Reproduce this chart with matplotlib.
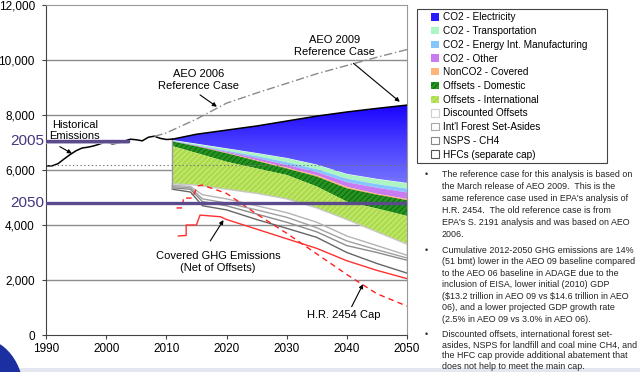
import numpy as np
import matplotlib
matplotlib.use('Agg')
from matplotlib import pyplot as plt
from matplotlib.colors import LinearSegmentedColormap
from matplotlib.patches import Patch, PathPatch, Rectangle, Ellipse

plt.rcParams['font.family'] = ['Liberation Sans', 'DejaVu Sans']
plt.rcParams['hatch.linewidth'] = 0.6

# historical emissions
hist_years = list(range(1990, 2012))
hist_vals = [6150, 6150, 6230, 6400, 6560, 6700, 6800, 6830, 6880, 6950, 7030,
             6950, 6980, 7050, 7120, 7100, 7060, 7190, 7230, 7150, 7110, 7120]

# AEO 2006 reference case (dash-dot)
aeo06_years = [2008, 2010, 2015, 2020, 2025, 2030, 2035, 2040, 2045, 2050]
aeo06_vals = [7220, 7350, 7850, 8430, 8800, 9150, 9500, 9800, 10100, 10380]

# stacked abatement wedges, boundaries
layer_years = [2011, 2015, 2020, 2025, 2030, 2035, 2040, 2045, 2050]
ref_top = [7120, 7300, 7450, 7600, 7780, 7960, 8110, 8240, 8360]        # AEO 2009
mint_top = [7090, 6960, 6790, 6620, 6440, 6200, 5860, 5680, 5530]       # CO2 transportation
lblue_top = [7070, 6920, 6720, 6520, 6300, 6040, 5700, 5500, 5340]      # CO2 energy int.
purple_top = [7060, 6900, 6680, 6450, 6200, 5940, 5570, 5370, 5200]     # CO2 other
orange_top = [7050, 6880, 6640, 6370, 6100, 5820, 5400, 5150, 4960]     # NonCO2 covered
dkgreen_top = [7040, 6860, 6610, 6330, 6050, 5760, 5330, 5100, 4900]    # offsets domestic
ltgreen_top = [6870, 6620, 6300, 6060, 5820, 5400, 4850, 4600, 4330]    # offsets international
green_bottom = [5500, 5450, 5300, 5150, 4950, 4620, 4200, 3750, 3300]

# white wedges below (discounted offsets, forest set-asides, NSPS, HFCs)
gray_years = [2011, 2014, 2016, 2020, 2025, 2030, 2035, 2040, 2045, 2050]
disc_bottom = [5450, 5400, 5100, 4950, 4700, 4450, 4100, 3600, 3250, 2900]
forest_bottom = [5400, 5350, 4950, 4800, 4550, 4280, 3900, 3420, 3100, 2800]
nsps_bottom = [5350, 5300, 4850, 4700, 4400, 4100, 3750, 3250, 3000, 2720]
hfc_bottom = [5300, 5200, 4700, 4550, 4200, 3880, 3550, 3000, 2600, 2250]

# covered GHG emissions net of offsets
covered_years = [2012, 2013.3, 2013.3, 2015, 2015.6, 2019, 2020, 2025, 2030, 2035, 2040, 2045, 2050]
covered_vals = [3600, 3620, 4000, 4000, 4360, 4300, 4200, 3850, 3500, 3150, 2700, 2350, 2050]

# H.R. 2454 cap
cap_years = [2011.7, 2012.8, 2012.8, 2014.3, 2015.2, 2016, 2020, 2025, 2030, 2035, 2040, 2045, 2050]
cap_vals = [4620, 4620, 4980, 4980, 5420, 5450, 5150, 4400, 3700, 2950, 2200, 1500, 1050]

legend_labels = ['CO2 - Electricity', 'CO2 - Transportation', 'CO2 - Energy Int. Manufacturing',
                 'CO2 - Other', 'NonCO2 - Covered', 'Offsets - Domestic', 'Offsets - International',
                 'Discounted Offsets', "Int'l Forest Set-Asides", 'NSPS - CH4', 'HFCs (separate cap)']

bullets = [
    "The reference case for this analysis is based on\nthe March release of AEO 2009.  This is the\n"
    "same reference case used in EPA's analysis of\nH.R. 2454.  The old reference case is from\n"
    "EPA's S. 2191 analysis and was based on AEO\n2006.",
    "Cumulative 2012-2050 GHG emissions are 14%\n(51 bmt) lower in the AEO 09 baseline compared\n"
    "to the AEO 06 baseline in ADAGE due to the\ninclusion of EISA, lower initial (2010) GDP\n"
    "($13.2 trillion in AEO 09 vs $14.6 trillion in AEO\n06), and a lower projected GDP growth rate\n"
    "(2.5% in AEO 09 vs 3.0% in AEO 06).",
    "Discounted offsets, international forest set-\nasides, NSPS for landfill and coal mine CH4, and\n"
    "the HFC cap provide additional abatement that\ndoes not help to meet the main cap.",
]

c_mint = '#aef5c4'
c_lblue = '#86c6ff'
c_purple = '#c97cf2'
c_orange = '#ffb47a'
c_dkgreen = '#24931f'
c_ltgreen = '#acdc4c'

fig = plt.figure(figsize=(6.4, 3.72), dpi=100)
ax = fig.add_axes([46 / 640, 37 / 372, 361 / 640, 330 / 372])

for v in range(2000, 12000, 2000):
    ax.axhline(v, color='#8c8c8c', lw=1.0, zorder=0)
ax.axhline(6180, color='#777777', lw=0.8, ls=(0, (1.2, 2.2)), zorder=8)

# blue electricity wedge with vertical gradient
blue_poly = ax.fill_between(layer_years, mint_top, ref_top, color='none', lw=0)
clip = PathPatch(blue_poly.get_paths()[0], facecolor='none', edgecolor='none', transform=ax.transData)
ax.add_patch(clip)
blue_cmap = LinearSegmentedColormap.from_list('b', ['#7878ff', '#4a40ff', '#1800ff'])
grad = np.linspace(0, 1, 256).reshape(-1, 1)
im = ax.imshow(grad, extent=[2011, 2050, 5400, 8400], origin='lower', aspect='auto',
               cmap=blue_cmap, zorder=2)
im.set_clip_path(clip)

ax.fill_between(layer_years, lblue_top, mint_top, color=c_mint, lw=0, zorder=2)
ax.fill_between(layer_years, purple_top, lblue_top, color=c_lblue, lw=0, zorder=2)
ax.fill_between(layer_years, orange_top, purple_top, color=c_purple, lw=0, zorder=2)
ax.fill_between(layer_years, dkgreen_top, orange_top, color=c_orange, lw=0, zorder=2)
ax.fill_between(layer_years, ltgreen_top, dkgreen_top, facecolor=c_dkgreen, edgecolor='#0c5f10',
                hatch='//////', lw=0, zorder=2)
ax.fill_between(layer_years, green_bottom, ltgreen_top, facecolor=c_ltgreen, edgecolor='#d2ee8e',
                hatch='//////', lw=0, zorder=2)

# white wedges outlined in gray
ax.plot(layer_years, green_bottom, color='#c8c8c8', lw=1.0, zorder=3)
ax.plot(gray_years, disc_bottom, color='#b4b4b4', lw=1.0, zorder=3)
ax.plot(gray_years, forest_bottom, color='#a0a0a0', lw=1.0, zorder=3)
ax.plot(gray_years, nsps_bottom, color='#8c8c8c', lw=1.0, zorder=3)
ax.plot(gray_years, hfc_bottom, color='#666666', lw=1.0, zorder=3)
ax.vlines(layer_years[0], hfc_bottom[0], ref_top[0], color='#999999', lw=1.0, zorder=3)
ax.vlines(layer_years[-1], hfc_bottom[-1], green_bottom[-1], color='#999999', lw=1.0, zorder=3)

ax.plot(covered_years, covered_vals, color='#ff3030', lw=1.0, zorder=5)
ax.plot(cap_years, cap_vals, color='#ff2020', lw=1.0, ls=(0, (4, 3)), zorder=5)

ax.plot(hist_years, hist_vals, color='black', lw=1.1, zorder=4)
ax.plot(layer_years, ref_top, color='black', lw=1.1, zorder=4)
ax.plot(aeo06_years, aeo06_vals, color='#8a8a8a', lw=1.0, ls=(0, (6, 2, 1, 2)), zorder=4)

# purple markers for the 2005 and 2050 levels
ax.plot([1990, 2003.6], [7000, 7000], color='#b8b8d0', lw=1.2, zorder=8)
ax.plot([1990, 2003.6], [7060, 7060], color='#5b4a8c', lw=2.4, zorder=9)
ax.axhline(4800, color='#5b4a8c', lw=2.4, zorder=9)
ax.text(1989.7, 7060, '2005', ha='right', va='center', fontsize=11, color='#45357f', clip_on=False)
ax.text(1989.7, 4800, '2050', ha='right', va='center', fontsize=11, color='#45357f', clip_on=False)

# annotations
ax.text(1994.8, 7430, 'Historical\nEmissions', ha='center', va='center', fontsize=8, zorder=7)
ax.text(2015.3, 9270, 'AEO 2006\nReference Case', ha='center', va='center', fontsize=8)
ax.text(2038.0, 10500, 'AEO 2009\nReference Case', ha='center', va='center', fontsize=8)
ax.text(2018.6, 2650, 'Covered GHG Emissions\n(Net of Offsets)', ha='center', va='center', fontsize=8)
ax.text(2039.5, 730, 'H.R. 2454 Cap', ha='center', va='center', fontsize=8)
arrow = dict(arrowstyle='-|>', color='black', lw=0.8, mutation_scale=6, shrinkA=0, shrinkB=0)
for tail, tip in [((1992.3, 6850), (1994.3, 6600)), ((2015.6, 8730), (2018.4, 8300)),
                  ((2041.1, 9880), (2048.8, 8480)), ((2017.3, 3420), (2019.5, 4180)),
                  ((2040.8, 1030), (2042.7, 1850))]:
    ax.annotate('', xy=tip, xytext=tail, arrowprops=arrow, zorder=7)

ax.set_xlim(1990, 2050)
ax.set_ylim(0, 12000)
ax.set_xticks(range(1990, 2051, 10))
ax.set_yticks(range(0, 12001, 2000))
ax.set_yticklabels(['0', '2,000', '4,000', '6,000', '8,000', '10,000', '12,000'])
ax.tick_params(axis='both', labelsize=8.5, length=3, width=0.8, color='#444444', pad=3)
ax.tick_params(axis='y', pad=5)
for s in ['left', 'bottom']:
    ax.spines[s].set_color('#444444')
for s in ['top', 'right']:
    ax.spines[s].set_color('#999999')

# legend in its own box
fig.patches.append(Rectangle((416.7 / 640, 1 - 162.7 / 372), 190 / 640, 153.4 / 372,
                             transform=fig.transFigure, facecolor='white', edgecolor='#444444', lw=0.8))
handles = [Patch(facecolor='#2a1aff'), Patch(facecolor=c_mint), Patch(facecolor=c_lblue),
           Patch(facecolor=c_purple), Patch(facecolor=c_orange),
           Patch(facecolor=c_dkgreen, edgecolor='#0c5f10', hatch='//////', lw=0),
           Patch(facecolor=c_ltgreen, edgecolor='#d2ee8e', hatch='//////', lw=0),
           Patch(facecolor='white', edgecolor='#d0d0d0', lw=0.8),
           Patch(facecolor='white', edgecolor='#a8a8a8', lw=0.8),
           Patch(facecolor='white', edgecolor='#888888', lw=0.8),
           Patch(facecolor='white', edgecolor='#555555', lw=0.8)]
fig.legend(handles, legend_labels, loc='upper left', bbox_to_anchor=(431 / 640, 1 - 12.5 / 372),
           frameon=False, fontsize=7.2, handlelength=0.75, handleheight=0.75, handletextpad=0.45,
           borderpad=0, borderaxespad=0, labelspacing=0.37)

# slide decoration at the bottom-left
fig.patches.append(Rectangle((0, 0), 1, 4 / 372, transform=fig.transFigure,
                             facecolor='#e4e6f0', edgecolor='none'))
fig.patches.append(Ellipse((-20 / 640, -22 / 372), 88 / 640, 112 / 372, transform=fig.transFigure,
                           facecolor='#1c2fa0', edgecolor='none'))

# bullet notes
for top, txt, spacing in zip([170.5, 246, 330], bullets, [1.42, 1.35, 1.24]):
    fig.text(425 / 640, 1 - top / 372, '\u2022', fontsize=6.4, va='top', color='#222222')
    fig.text(441.7 / 640, 1 - top / 372, txt, fontsize=6.4, va='top', linespacing=spacing,
             color='#222222', parse_math=False)

fig.savefig('out.png', dpi=100)
